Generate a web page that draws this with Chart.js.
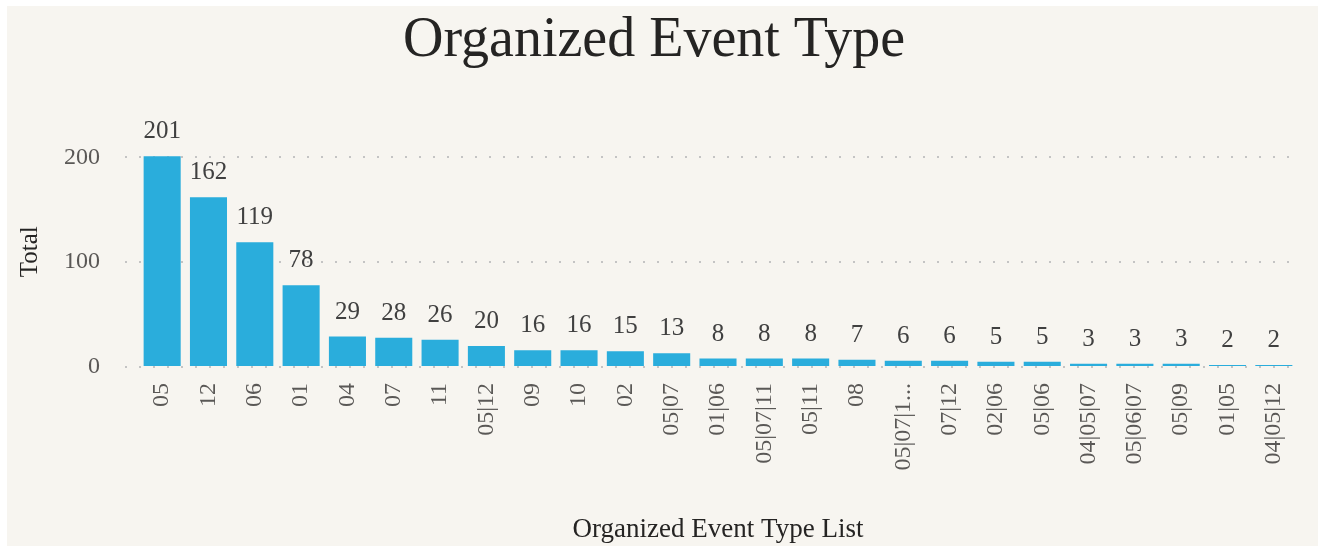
<!DOCTYPE html>
<html>
<head>
<meta charset="utf-8">
<title>Organized Event Type</title>
<script src="https://cdn.jsdelivr.net/npm/chart.js@4/dist/chart.umd.min.js"></script>
<style>
  body { margin: 0; background: #ffffff; }
  #marco {
    position: absolute; left: 7px; top: 6px;
    width: 1311px; height: 540px;
    background: #f7f5f0;
  }
</style>
</head>
<body>
<div id="marco">
  <canvas id="grafico" width="1311" height="540"></canvas>
</div>
<script>
// datos
const categorias = ['05', '12', '06', '01', '04', '07', '11', '05|12', '09', '10', '02', '05|07',
  '01|06', '05|07|11', '05|11', '08', '05|07|1...', '07|12', '02|06', '05|06', '04|05|07',
  '05|06|07', '05|09', '01|05', '04|05|12'];
const totales = [201, 162, 119, 78, 29, 28, 26, 20, 16, 16, 15, 13, 8, 8, 8, 7, 6, 6, 5, 5, 3, 3, 3, 2, 2];
const ticksY = [0, 100, 200];

const fuente = 'Liberation Serif, Times New Roman, serif';

// etiquetas con el valor encima de cada barra
const etiquetasValor = {
  id: 'etiquetasValor',
  afterDatasetsDraw(chart) {
    const ctx = chart.ctx;
    const meta = chart.getDatasetMeta(0);
    ctx.save();
    ctx.font = '25px ' + fuente;
    ctx.fillStyle = '#404040';
    ctx.textAlign = 'center';
    ctx.textBaseline = 'alphabetic';
    meta.data.forEach((barra, i) => {
      ctx.fillText(totales[i], barra.x, barra.y - 18);
    });
    ctx.restore();
  }
};

const ctx = document.getElementById('grafico');

new Chart(ctx, {
  type: 'bar',
  data: {
    labels: categorias,
    datasets: [{
      label: 'Total',
      data: totales,
      backgroundColor: '#2aaddc',
      borderWidth: 0,
      categoryPercentage: 1,
      barPercentage: 0.8
    }]
  },
  options: {
    responsive: false,
    animation: false,
    layout: { padding: { left: 4, right: 21, top: 0, bottom: 0 } },
    plugins: {
      legend: { display: false },
      tooltip: { enabled: false },
      title: {
        display: true,
        text: 'Organized Event Type',
        color: '#252423',
        font: { family: fuente, size: 56, weight: 'normal', lineHeight: 1.15 },
        padding: { top: 3, bottom: 63 }
      }
    },
    scales: {
      x: {
        grid: { display: false },
        border: { display: false },
        ticks: {
          color: '#5a5856',
          font: { family: fuente, size: 24 },
          minRotation: 90,
          maxRotation: 90,
          autoSkip: false,
          padding: 8
        },
        title: {
          display: true,
          text: 'Organized Event Type List',
          color: '#252423',
          font: { family: fuente, size: 27 },
          padding: { top: 0, bottom: 0 }
        },
        afterFit(scale) { scale.height = 179; }
      },
      y: {
        min: 0,
        max: 220,
        border: { display: false, dash: [2, 12] },
        grid: {
          color: '#c4c4c4',
          lineWidth: 2,
          tickLength: 14,
          tickColor: '#c4c4c4',
          tickBorderDash: [2, 12]
        },
        ticks: {
          stepSize: 100,
          color: '#5a5856',
          font: { family: fuente, size: 24 },
          padding: 25
        },
        afterBuildTicks(scale) {
          scale.ticks = ticksY.map(v => ({ value: v }));
        },
        title: {
          display: true,
          text: 'Total',
          color: '#252423',
          font: { family: fuente, size: 25 },
          padding: { top: 4, bottom: 4 }
        },
        afterFit(scale) { scale.width = 128; }
      }
    }
  },
  plugins: [etiquetasValor]
});
</script>
</body>
</html>
